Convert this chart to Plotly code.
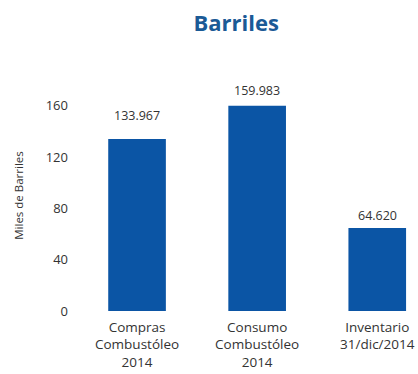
import plotly.graph_objects as go

categories = ["Compras<br>Combustóleo<br>2014", "Consumo<br>Combustóleo<br>2014", "Inventario<br>31/dic/2014"]
values = [133.967, 159.983, 64.620]
y_ticks = [0, 40, 80, 120, 160]

# vertical lift (px) of each value label above its bar
label_lift = [24, 15, 13]

fig = go.Figure(
    go.Bar(
        x=categories,
        y=values,
        width=0.48,
        marker=dict(color="#0b55a5", line=dict(width=0)),
        cliponaxis=False,
    )
)

for cat, val, lift in zip(categories, values, label_lift):
    fig.add_annotation(
        x=cat,
        y=val,
        text=f"{val:.3f}",
        showarrow=False,
        yanchor="middle",
        yshift=lift,
        font=dict(size=12.5, color="#333333", family="Open Sans"),
    )

fig.update_layout(
    width=418,
    height=374,
    margin=dict(l=77, r=3, t=80, b=61),
    paper_bgcolor="white",
    plot_bgcolor="white",
    showlegend=False,
    font=dict(family="Open Sans", color="#333333"),
    title=dict(
        text="<b>Barriles</b>",
        x=0.565,
        xanchor="center",
        y=0.938,
        yanchor="middle",
        font=dict(size=22, color="#1b5a96", family="Open Sans"),
    ),
    xaxis=dict(
        range=[-0.5, 2.306],
        showgrid=False,
        showline=False,
        zeroline=False,
        tickfont=dict(size=13.5, color="#333333"),
        ticks="",
        ticklabelstandoff=6,
    ),
    yaxis=dict(
        range=[0, 180],
        tickvals=y_ticks,
        showgrid=False,
        showline=False,
        zeroline=False,
        tickfont=dict(size=13, color="#333333"),
        ticks="",
        ticklabelstandoff=8,
        title=dict(text="Miles de Barriles", font=dict(size=11.5, color="#333333"), standoff=19),
    ),
)

fig.write_html("out.html")
